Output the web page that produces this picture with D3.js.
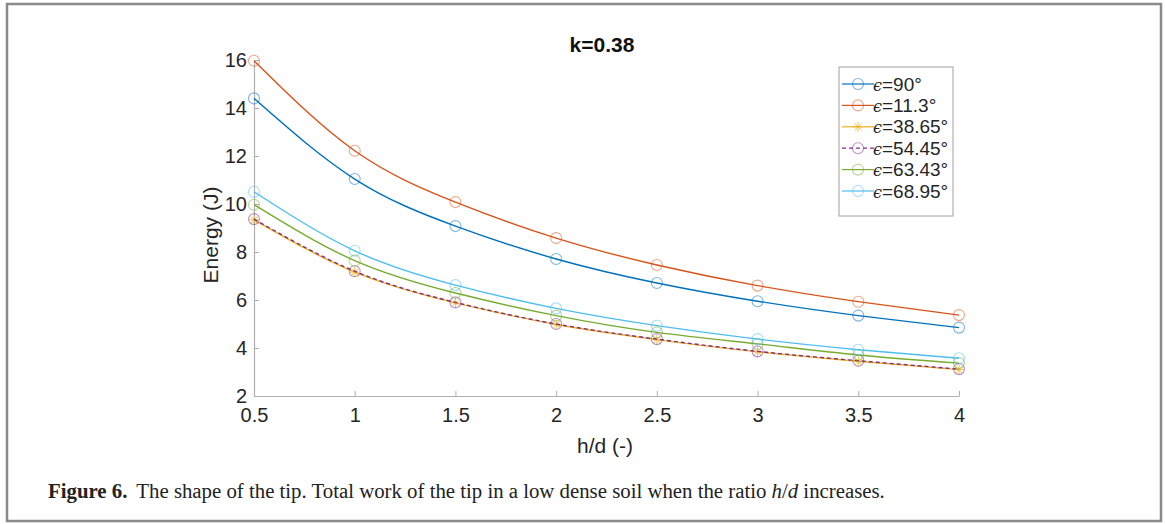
<!DOCTYPE html>
<html>
<head>
<meta charset="utf-8">
<script src="https://cdn.jsdelivr.net/npm/d3@7/dist/d3.min.js"></script>
<style>
  html, body { margin: 0; padding: 0; background: #fff; }
  svg { display: block; }
</style>
</head>
<body>
<svg id="chart" width="1165" height="524"></svg>
<script>
const hd = [0.5, 1, 1.5, 2, 2.5, 3, 3.5, 4];
const seriesNames = ["90°", "11.3°", "38.65°", "54.45°", "63.43°", "68.95°"];
const e90    = [14.40, 11.04, 9.08, 7.71, 6.71, 5.95, 5.35, 4.85];
const e11_3  = [15.97, 12.22, 10.08, 8.58, 7.46, 6.60, 5.93, 5.37];
const e38_65 = [9.34, 7.16, 5.88, 4.98, 4.35, 3.84, 3.45, 3.10];
const e54_45 = [9.37, 7.20, 5.90, 5.00, 4.37, 3.86, 3.47, 3.12];
const e63_43 = [9.97, 7.64, 6.29, 5.35, 4.65, 4.17, 3.71, 3.37];
const e68_95 = [10.51, 8.05, 6.62, 5.65, 4.93, 4.37, 3.93, 3.57];
const seriesValues = [e90, e11_3, e38_65, e54_45, e63_43, e68_95];
const xTicks = [0.5, 1, 1.5, 2, 2.5, 3, 3.5, 4];
const yTicks = [2, 4, 6, 8, 10, 12, 14, 16];
const titleText = "k=0.38";
const xLabel = "h/d (-)";
const yLabel = "Energy (J)";

const colors = ["#0072BD", "#D95319", "#EDB120", "#7E2F8E", "#77AC30", "#4DBEEE"];
const markers = ["o", "o", "*", "o", "o", "o"];
const dashes = [null, null, null, "4,3", null, null];

const svg = d3.select("#chart");
const font = "Arial, 'Liberation Sans', sans-serif";

// outer frame
svg.append("rect").attr("x", 7).attr("y", 4).attr("width", 1154).attr("height", 517)
  .attr("fill", "none").attr("stroke", "#8a8a8a").attr("stroke-width", 2.5);

const x = d3.scaleLinear().domain([0.5, 4]).range([254, 959]);
const y = d3.scaleLinear().domain([2, 16]).range([396, 60]);

const axisColor = "#b0b0b0";

// x axis
const gx = svg.append("g").attr("transform", `translate(0,${y(2)})`)
  .call(d3.axisBottom(x).tickValues(xTicks).tickSize(-5).tickSizeOuter(0).tickPadding(9)
        .tickFormat(d => d3.format("")(d)));
gx.select(".domain").attr("stroke", axisColor).attr("stroke-width", 1.2);
gx.selectAll(".tick line").attr("stroke", axisColor);
gx.selectAll(".tick text").attr("font-family", font).attr("font-size", 20).attr("fill", "#262626")
  .attr("dy", "0.85em");

// y axis
const gy = svg.append("g").attr("transform", `translate(${x(0.5)},0)`)
  .call(d3.axisLeft(y).tickValues(yTicks).tickSize(-5).tickSizeOuter(0).tickPadding(7));
gy.select(".domain").attr("stroke", axisColor).attr("stroke-width", 1.2);
gy.selectAll(".tick line").attr("stroke", axisColor);
gy.selectAll(".tick text").attr("font-family", font).attr("font-size", 20).attr("fill", "#262626");

// title and labels
svg.append("text").attr("x", 602).attr("y", 52).attr("text-anchor", "middle")
  .attr("font-family", font).attr("font-size", 21).attr("font-weight", "bold").attr("fill", "#111")
  .text(titleText);
svg.append("text").attr("x", 605).attr("y", 453).attr("text-anchor", "middle")
  .attr("font-family", font).attr("font-size", 21).attr("fill", "#262626").text(xLabel);
svg.append("text").attr("transform", "translate(218,235) rotate(-90)").attr("text-anchor", "middle")
  .attr("font-family", font).attr("font-size", 21).attr("fill", "#262626").text(yLabel);

// lines
const line = d3.line().x((d, i) => x(hd[i])).y(d => y(d)).curve(d3.curveNatural);

function drawMarker(g, type, cx, cy, color, r) {
  if (type === "o") {
    g.append("circle").attr("cx", cx).attr("cy", cy).attr("r", r)
      .attr("fill", "none").attr("stroke", color).attr("stroke-width", 1.1).attr("stroke-opacity", 0.5);
  } else {
    const s = r * 0.9;
    const p = d3.path();
    p.moveTo(cx - s, cy); p.lineTo(cx + s, cy);
    p.moveTo(cx, cy - s); p.lineTo(cx, cy + s);
    const t = s * 0.7;
    p.moveTo(cx - t, cy - t); p.lineTo(cx + t, cy + t);
    p.moveTo(cx - t, cy + t); p.lineTo(cx + t, cy - t);
    g.append("path").attr("d", p.toString()).attr("stroke", color).attr("stroke-width", 1)
      .attr("stroke-opacity", 0.8).attr("fill", "none");
  }
}

seriesValues.forEach((vals, i) => {
  const g = svg.append("g");
  g.append("path").attr("d", line(vals)).attr("fill", "none")
    .attr("stroke", colors[i]).attr("stroke-width", 1.4)
    .attr("stroke-dasharray", dashes[i]);
  vals.forEach((v, j) => drawMarker(g, markers[i], x(hd[j]), y(v), colors[i], 5.5));
});

// legend
const lg = svg.append("g");
lg.append("rect").attr("x", 839).attr("y", 67).attr("width", 114).attr("height", 149)
  .attr("fill", "#fff").attr("stroke", "#a0a0a0").attr("stroke-width", 1);
seriesNames.forEach((name, i) => {
  const cy = 84 + i * 21.4;
  lg.append("line").attr("x1", 842).attr("x2", 874).attr("y1", cy).attr("y2", cy)
    .attr("stroke", colors[i]).attr("stroke-width", 1.2).attr("stroke-dasharray", dashes[i]);
  drawMarker(lg, markers[i], 858, cy, colors[i], 5.5);
  const t = lg.append("text").attr("x", 873).attr("y", cy + 6.5)
    .attr("font-family", font).attr("font-size", 19).attr("fill", "#262626");
  t.append("tspan").attr("font-family", "'DejaVu Serif', serif").attr("font-style", "italic")
    .attr("font-size", 16).text("ϵ");
  t.append("tspan").text("=" + name);
});

// caption
const cap = svg.append("text").attr("x", 48).attr("y", 498)
  .attr("font-family", "'Liberation Serif', 'DejaVu Serif', serif").attr("font-size", 20).attr("fill", "#222");
cap.append("tspan").attr("font-weight", "bold").text("Figure 6.");
cap.append("tspan").attr("dx", 9).text("The shape of the tip. Total work of the tip in a low dense soil when the ratio ");
cap.append("tspan").attr("font-style", "italic").text("h");
cap.append("tspan").text("/");
cap.append("tspan").attr("font-style", "italic").text("d");
cap.append("tspan").text(" increases.");
const w = cap.node().getBBox().width;
cap.attr("font-size", 20 * 838 / w);
</script>
</body>
</html>
